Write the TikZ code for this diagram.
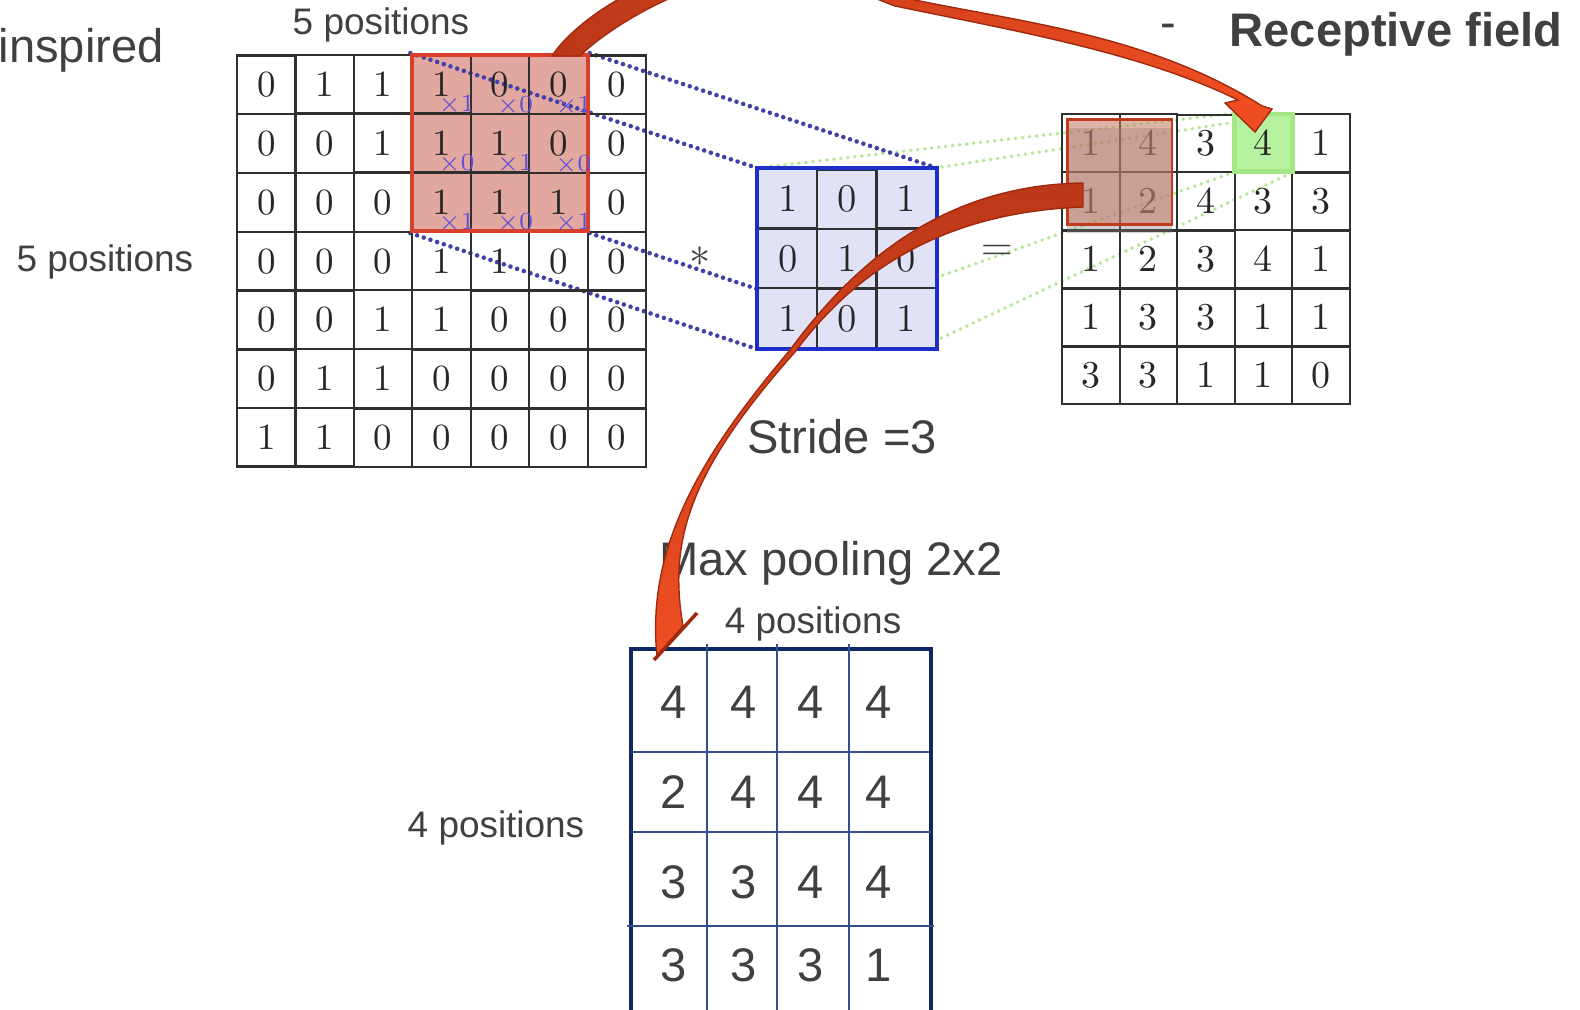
\documentclass[tikz,border=0pt]{standalone}
\usepackage{fontspec}
\newfontfamily\slidefont{Liberation Sans}
\usetikzlibrary{matrix,positioning,shadows,fit,backgrounds}

\definecolor{slidegray}{HTML}{404040}
\definecolor{gridline}{HTML}{303030}
\definecolor{hotred}{HTML}{D8402E}
\definecolor{hotfill}{HTML}{E2A8A0}
\definecolor{kernblue}{HTML}{1E2EC8}
\definecolor{kernfill}{HTML}{E2E2F6}
\definecolor{weightblue}{HTML}{6050D8}
\definecolor{dotblue}{HTML}{4040A8}
\definecolor{dotgreen}{HTML}{B4E894}
\definecolor{poolfill}{HTML}{C07A62}
\definecolor{poolred}{HTML}{C23A1C}
\definecolor{peakgreen}{HTML}{B6F2A0}
\definecolor{peakedge}{HTML}{A4E886}
\definecolor{arrowdark}{HTML}{BC3818}
\definecolor{arrowlight}{HTML}{F04E22}
\definecolor{arrowedge}{HTML}{A02A10}
\definecolor{navy}{HTML}{0E2866}
\definecolor{navyline}{HTML}{34508C}

\begin{document}
\begin{tikzpicture}[x=0.01cm, y=-0.01cm]
  \tikzstyle{grid}=[matrix of nodes, anchor=north west, inner sep=0pt, outer sep=0pt, column sep=-0.6pt, row sep=-0.6pt]
  \tikzstyle{cell}=[draw=gridline, line width=0.6pt, minimum size=5.84mm, inner sep=0pt, outer sep=0pt, text=black!85, font=\fontsize{10.5}{12}\selectfont]
  \tikzstyle{weight}=[text=weightblue, inner sep=0pt, font=\scriptsize]
  \tikzstyle{hotbox}=[draw=hotred, line width=1.1pt, inner sep=0pt]
  \tikzstyle{poolbox}=[draw=poolred, line width=0.7pt, fill=poolfill, fill opacity=0.55, inner sep=-1.5pt, drop shadow={shadow xshift=0pt, shadow yshift=-2.5pt, opacity=0.35}]
  \tikzstyle{kernframe}=[draw=kernblue, line width=1.1pt]
  \tikzstyle{blueline}=[draw=dotblue, line width=1.3pt, line cap=round, dash pattern=on 0pt off 2pt]
  \tikzstyle{greenline}=[draw=dotgreen, line width=1.1pt, line cap=round, dash pattern=on 0pt off 2pt]
  \tikzstyle{slidetext}=[text=slidegray, inner sep=0pt, font=\slidefont\fontsize{13.4}{16}\selectfont]
  \tikzstyle{postext}=[text=slidegray, inner sep=0pt, font=\slidefont\fontsize{10.5}{12}\selectfont]
  \tikzstyle{opname}=[text=black!75, inner sep=0pt, font=\fontsize{12.5}{14}\selectfont]
  \tikzstyle{bigarrow}=[draw=arrowedge, line width=0.4pt]
  \tikzstyle{poolframe}=[draw=navy, line width=0.9pt]
  \tikzstyle{poolline}=[draw=navyline, line width=0.55pt]

  \useasboundingbox (0,0) rectangle (1580,1010);
  \begin{scope}[on background layer]
    \fill[white] (0,0) rectangle (1580,1010);
  \end{scope}

  % input image
  \matrix (input) [grid, nodes={cell}] at (236,54) {
    0 & 1 & 1 & 1 & 0 & 0 & 0 \\
    0 & 0 & 1 & 1 & 1 & 0 & 0 \\
    0 & 0 & 0 & 1 & 1 & 1 & 0 \\
    0 & 0 & 0 & 1 & 1 & 0 & 0 \\
    0 & 0 & 1 & 1 & 0 & 0 & 0 \\
    0 & 1 & 1 & 0 & 0 & 0 & 0 \\
    1 & 1 & 0 & 0 & 0 & 0 & 0 \\
  };

  % feature map
  \matrix (output) [grid, nodes={cell, minimum size=5.75mm, font=\fontsize{10.8}{12}\selectfont}] at (1061,113) {
    1 & 4 & 3 & 4 & 1 \\
    1 & 2 & 4 & 3 & 3 \\
    1 & 2 & 3 & 4 & 1 \\
    1 & 3 & 3 & 1 & 1 \\
    3 & 3 & 1 & 1 & 0 \\
  };

  % highlighted windows, dotted projections behind everything
  \begin{scope}[on background layer]
    \node [fit=(input-1-4)(input-3-6), inner sep=0pt, fill=hotfill] (infill) {};
    \node [fit=(output-1-4), inner sep=0pt, fill=peakgreen] (peak) {};
    \draw [greenline] (757,168) -- (peak.north west);
    \draw [greenline] (935,168) -- (peak.north east);
    \draw [greenline] (757,341) -- (peak.south west);
    \draw [greenline] (935,341) -- (peak.south east);
  \end{scope}
  \node [hotbox, fit=(input-1-4)(input-3-6)] (inbox) {};
  \node [draw=peakedge, line width=1.3pt, fit=(output-1-4), inner sep=0pt] (peakbox) {};

  % kernel weights
  \foreach \r/\c/\w in {1/4/1, 1/5/0, 1/6/1, 2/4/0, 2/5/1, 2/6/0, 3/4/1, 3/5/0, 3/6/1}
    \node [weight] (w-\r-\c) at ([shift={(15,21)}]input-\r-\c.center) {$\times$\w};

  % kernel
  \matrix (kernel) [grid, nodes={cell, minimum size=5.92mm, fill=kernfill, font=\fontsize{11.2}{13}\selectfont}] at (757,168) {
    1 & 0 & 1 \\
    0 & 1 & 0 \\
    1 & 0 & 1 \\
  };
  \begin{scope}[on background layer]
    \draw [blueline] (inbox.north west) -- (kernel.north west);
    \draw [blueline] (inbox.north east) -- (kernel.north east);
    \draw [blueline] (inbox.south west) -- (kernel.south west);
    \draw [blueline] (inbox.south east) -- (kernel.south east);
  \end{scope}
  \draw [kernframe] (kernel.north west) rectangle (kernel.south east);

  \node [opname] (conv) at (700,257) {$\ast$};
  \node [opname] (equals) at (997,253) {$=$};

  \node [poolbox, fit=(output-1-1)(output-2-2)] (outbox) {};

  % pooled map
  \draw [poolframe] (631,649) rectangle (931,1030);
  \foreach \x in {707,777,849}
    \draw [poolline] (\x,644) -- (\x,1030);
  \draw [poolline] (631,752) -- (929,752);
  \draw [poolline] (631,832) -- (931,832);
  \draw [poolline] (627,926) -- (934,926);
  \foreach \y/\vals [count=\r] in {702/{4,4,4,4}, 792/{2,4,4,4}, 882/{3,3,4,4}, 965/{3,3,3,1}}
    \foreach \v [count=\c] in \vals {
      \pgfmathsetmacro\px{{674,744,811,879}[\c-1]}
      \node [slidetext] (pool-\r-\c) at (\px,\y) {\v};
    };

  % texts
  \node [slidetext, anchor=base west] (inspired) at (-2,63) {inspired};
  \node [postext, anchor=base] (toppos) at (381,35) {5 positions};
  \node [postext, anchor=base] (leftpos) at (105,272) {5 positions};
  \node [slidetext] (dash) at (1168,31) {-};
  \node [slidetext, anchor=base west, font=\slidefont\bfseries\fontsize{13.4}{16}\selectfont] (receptive) at (1229,47) {Receptive field};
  \node [slidetext, anchor=base] (stride) at (842,453) {Stride =3};
  \node [slidetext, anchor=base] (maxpool) at (831,575) {Max pooling 2x2};
  \node [postext, anchor=base] (pooltop) at (813,633) {4 positions};
  \node [postext, anchor=base] (poolleft) at (496,837) {4 positions};

  % curved arrows
  \path [bigarrow, left color=arrowdark, right color=arrowlight]
    (552,56) .. controls (575,20) and (660,-40) .. (760,-40)
    .. controls (850,-40) and (885,-12) .. (915,0)
    .. controls (1020,22) and (1150,35) .. (1262,106)
    -- (1272,109) -- (1255,132) -- (1225,103) -- (1238,100)
    .. controls (1140,52) and (1010,30) .. (895,6)
    .. controls (865,-5) and (830,-24) .. (760,-24)
    .. controls (690,-24) and (605,30) .. (580,56) -- cycle;
  \path [bigarrow, top color=arrowdark, bottom color=arrowlight]
    (1083,183) .. controls (950,185) and (860,255) .. (790,350)
    .. controls (710,445) and (645,540) .. (657,656)
    -- (683,626)
    .. controls (668,540) and (690,470) .. (795,352)
    .. controls (860,265) and (950,212) .. (1083,207) -- cycle;
  \draw [arrowedge, line width=1pt] (654,660) -- (697,613);
\end{tikzpicture}
\end{document}
